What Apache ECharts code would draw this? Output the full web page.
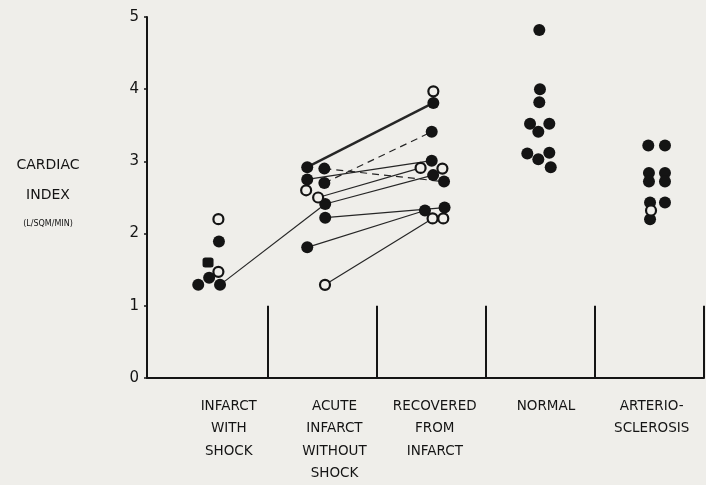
<!DOCTYPE html>
<html>
<head>
<meta charset="utf-8">
<script src="https://cdn.jsdelivr.net/npm/echarts@6/dist/echarts.min.js"></script>
<style>
html,body{margin:0;padding:0;background:#efeeea;}
#chart{width:706px;height:485px;}
</style>
</head>
<body>
<div id="chart"></div>
<script>
// ---- data ----
const categories = ["INFARCT\nWITH\nSHOCK", "ACUTE\nINFARCT\nWITHOUT\nSHOCK", "RECOVERED\nFROM\nINFARCT", "NORMAL", "ARTERIO-\nSCLEROSIS"];
const yTicks = [0, 1, 2, 3, 4, 5];

// kinds: f = filled circle, o = open circle, s = filled square
const shockValues = [2.20, 1.89, 1.60, 1.47, 1.39, 1.29, 1.29];
const shockJitter = [0.45, 0.5, -0.5, 0.45, -0.4, -1.4, 0.6];
const shockKinds  = ['o', 'f', 's', 'o', 'f', 'f', 'f'];

const acuteValues = [2.92, 2.90, 2.75, 2.70, 2.60, 2.50, 2.41, 2.22, 1.81, 1.29];
const acuteJitter = [-1.4, 0.17, -1.4, 0.17, -1.5, -0.4, 0.25, 0.25, -1.4, 0.23];
const acuteKinds  = ['f', 'f', 'f', 'f', 'o', 'o', 'f', 'f', 'f', 'o'];

const recoveredValues = [3.97, 3.81, 3.41, 3.01, 2.91, 2.90, 2.81, 2.72, 2.32, 2.36, 2.21, 2.21];
const recoveredJitter = [0.17, 0.17, 0.02, 0.02, -1.0, 1.0, 0.15, 1.15, -0.6, 1.2, 0.1, 1.08];
const recoveredKinds  = ['o', 'f', 'f', 'f', 'o', 'o', 'f', 'f', 'f', 'f', 'o', 'o'];

const normalValues = [4.82, 4.00, 3.82, 3.52, 3.52, 3.41, 3.11, 3.12, 3.03, 2.92];
const normalJitter = [-0.11, -0.05, -0.11, -0.96, 0.81, -0.2, -1.21, 0.81, -0.2, 0.94];
const normalKinds  = ['f', 'f', 'f', 'f', 'f', 'f', 'f', 'f', 'f', 'f'];

const arterioValues = [3.22, 3.22, 2.84, 2.72, 2.84, 2.72, 2.43, 2.43, 2.32, 2.20];
const arterioJitter = [-0.11, 1.42, -0.05, -0.05, 1.42, 1.42, 0.05, 1.42, 0.14, 0.05];
const arterioKinds  = ['f', 'f', 'f', 'f', 'f', 'f', 'f', 'f', 'o', 'f'];

// paired patients: [fromGroup, fromIndex, toGroup, toIndex, style]
const links = [
  [0, 6, 1, 6, 'solid'],
  [1, 0, 2, 1, 'thick'],
  [1, 1, 2, 7, 'dashed'],
  [1, 2, 2, 3, 'solid'],
  [1, 3, 2, 2, 'dashed'],
  [1, 5, 2, 4, 'solid'],
  [1, 6, 2, 6, 'solid'],
  [1, 7, 2, 9, 'solid'],
  [1, 8, 2, 8, 'solid'],
  [1, 9, 2, 10, 'solid']
];

// ---- layout ----
const groups = [
  {v: shockValues, j: shockJitter, k: shockKinds},
  {v: acuteValues, j: acuteJitter, k: acuteKinds},
  {v: recoveredValues, j: recoveredJitter, k: recoveredKinds},
  {v: normalValues, j: normalJitter, k: normalKinds},
  {v: arterioValues, j: arterioJitter, k: arterioKinds}
];
const JIT = 0.1;
const labelShift = [0.14, 0.11, 0.03, 0.05, 0.02];
const INK = '#141414';
const BG = '#efeeea';
const FONT = '"DejaVu Sans", sans-serif';

function pt(g, i) { return [g + groups[g].j[i] * JIT, groups[g].v[i]]; }
function pointsOf(kind) {
  const out = [];
  groups.forEach((gr, g) => gr.v.forEach((val, i) => { if (gr.k[i] === kind) out.push(pt(g, i)); }));
  return out;
}
const dividers = categories.map((c, i) => i + 0.5);

const series = [];
links.forEach(l => {
  series.push({
    type: 'line', data: [pt(l[0], l[1]), pt(l[2], l[3])],
    symbol: 'none', silent: true, z: 1,
    lineStyle: {
      color: '#262626',
      width: l[4] === 'thick' ? 2.4 : 1.2,
      type: l[4] === 'dashed' ? [7, 5] : 'solid'
    }
  });
});
series.push({
  type: 'scatter', data: pointsOf('f'), symbol: 'circle', symbolSize: 12, z: 3,
  itemStyle: {color: INK, opacity: 1},
  markLine: {
    silent: true, symbol: 'none', label: {show: false},
    lineStyle: {color: INK, width: 2, type: 'solid'},
    data: dividers.map(x => [{coord: [x, yTicks[0]]}, {coord: [x, yTicks[1]]}])
  }
});
series.push({
  type: 'scatter', data: pointsOf('s'), symbol: 'roundRect', symbolSize: [11, 10], z: 3,
  itemStyle: {color: INK, opacity: 1}
});
series.push({
  type: 'scatter', data: pointsOf('o'), symbol: 'circle', symbolSize: 10, z: 4,
  itemStyle: {color: BG, borderColor: INK, borderWidth: 2.2, opacity: 1}
});

const chart = echarts.init(document.getElementById('chart'), null, {renderer: 'canvas'});
chart.setOption({
  backgroundColor: BG,
  animation: false,
  grid: {left: 147, right: 2, top: 17, bottom: 101},
  xAxis: {
    type: 'value', min: -0.61, max: categories.length - 0.5,
    splitLine: {show: false},
    axisTick: {show: false},
    axisLine: {show: true, onZero: false, lineStyle: {color: INK, width: 2}},
    axisLabel: {
      customValues: categories.map((c, i) => i + labelShift[i]),
      formatter: v => categories[Math.round(v)],
      color: INK, fontFamily: FONT, fontSize: 13.5, lineHeight: 22.5, margin: 17,
      align: 'center'
    }
  },
  yAxis: {
    type: 'value', min: yTicks[0], max: yTicks[yTicks.length - 1], interval: 1,
    splitLine: {show: false},
    axisLine: {show: true, onZero: false, lineStyle: {color: INK, width: 2}},
    axisTick: {show: true, length: 3, lineStyle: {color: INK, width: 1.5}},
    axisLabel: {color: INK, fontFamily: FONT, fontSize: 15, margin: 8}
  },
  graphic: [
    {type: 'text', style: {text: 'CARDIAC', x: 48, y: 165, align: 'center', verticalAlign: 'middle', fill: INK, font: '14px "DejaVu Sans"'}},
    {type: 'text', style: {text: 'INDEX', x: 48, y: 195, align: 'center', verticalAlign: 'middle', fill: INK, font: '14px "DejaVu Sans"'}},
    {type: 'text', style: {text: '(L/SQM/MIN)', x: 48, y: 224, align: 'center', verticalAlign: 'middle', fill: INK, font: '8px "DejaVu Sans"'}}
  ],
  series: series
});
</script>
</body>
</html>
